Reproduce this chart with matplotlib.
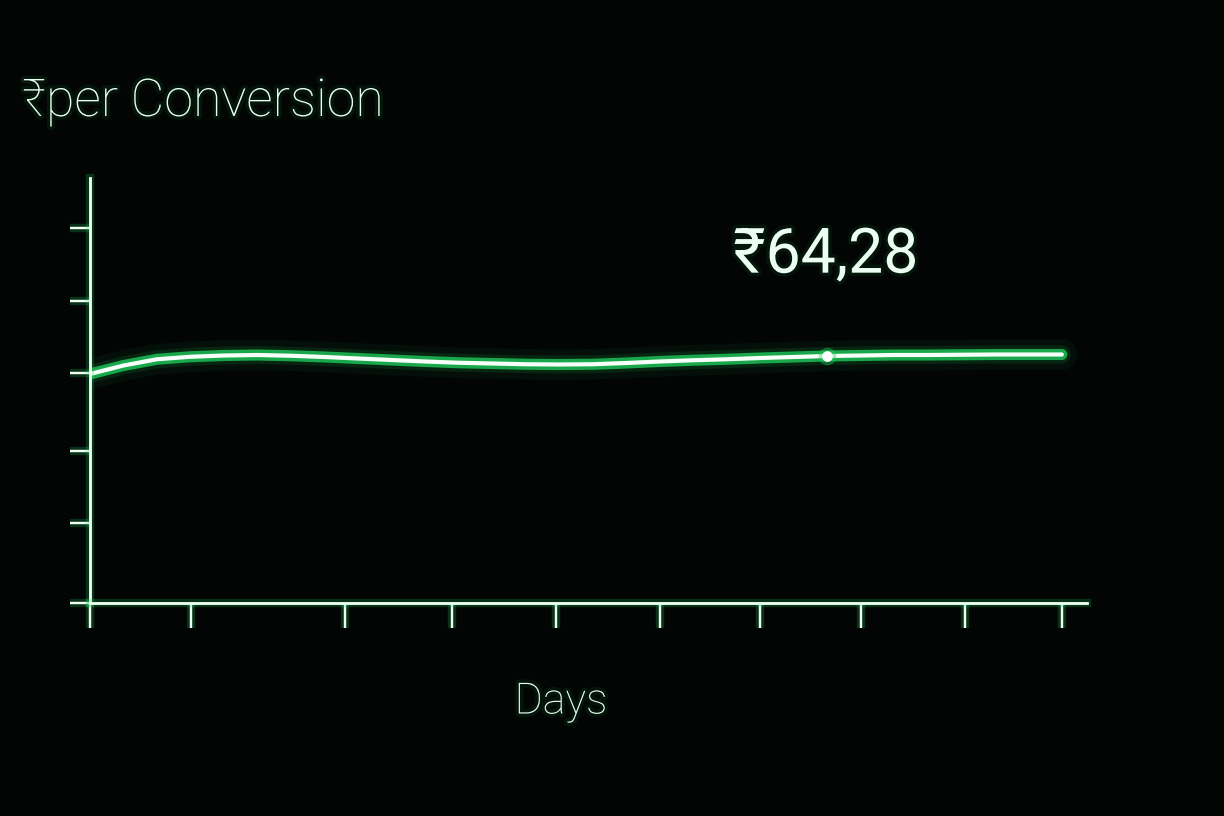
import matplotlib
matplotlib.use("Agg")
import matplotlib.pyplot as plt
import matplotlib.patheffects as pe

# cost per conversion, one value per day
days = list(range(30))
cost = [63.56, 63.90, 64.15, 64.25, 64.30, 64.32, 64.29, 64.24, 64.18, 64.12,
        64.06, 64.01, 63.98, 63.95, 63.94, 63.95, 64.00, 64.06, 64.11, 64.15,
        64.20, 64.24, 64.28, 64.30, 64.32, 64.32, 64.33, 64.34, 64.34, 64.34]
highlight_day = 22
highlight_label = "₹64,28"

x_ticks = [0, 3, 7.6, 10.8, 13.9, 17, 20, 23, 26.1, 29]
y_ticks = [54.4, 57.6, 60.5, 63.6, 66.5, 69.4]

title = "₹per Conversion"
x_label = "Days"

BG = "#020504"
PALE = "#ecfdf2"
GREEN = "#1fd35e"
FONT = ["Roboto", "Noto Sans", "DejaVu Sans"]

fig = plt.figure(figsize=(12.24, 8.16), dpi=100, facecolor=BG)
ax = fig.add_axes([90 / 1224, 1 - 603 / 816, 997 / 1224, 425 / 816])
ax.set_facecolor(BG)

glow = [pe.withStroke(linewidth=6, foreground=GREEN, alpha=0.22)]
text_glow = [pe.withStroke(linewidth=5, foreground=GREEN, alpha=0.08)]

# line with glow layers
for lw, a in [(22, 0.05), (13, 0.12), (8, 0.75)]:
    ax.plot(days, cost, color=GREEN, lw=lw, alpha=a,
            solid_capstyle="round", solid_joinstyle="round")
ax.plot(days, cost, color="#f6fff8", lw=3.0,
        solid_capstyle="round", solid_joinstyle="round")

hv = cost[days.index(highlight_day)]
ax.scatter([highlight_day], [hv], s=160, color=GREEN, alpha=0.4, zorder=4, lw=0)
ax.scatter([highlight_day], [hv], s=60, color="#ffffff", zorder=5, lw=0)
ax.annotate(highlight_label, (highlight_day, hv), xytext=(-1, 60),
            textcoords="offset points", ha="center", va="baseline",
            fontsize=45, color=PALE, family=FONT, path_effects=text_glow)

ax.set_xlim(0, 29.75)
ax.set_ylim(54.4, 71.4)
ax.set_xticks(x_ticks)
ax.set_yticks(y_ticks)
ax.set_xticklabels([])
ax.set_yticklabels([])
ax.tick_params(axis="x", length=18, width=1.6, color=PALE, direction="out")
ax.tick_params(axis="y", length=14.5, width=1.6, color=PALE, direction="out")
for t in ax.xaxis.get_major_ticks() + ax.yaxis.get_major_ticks():
    t.tick1line.set_path_effects(glow + [pe.Normal()])

for s in ["top", "right"]:
    ax.spines[s].set_visible(False)
for s in ["left", "bottom"]:
    ax.spines[s].set_color(PALE)
    ax.spines[s].set_linewidth(1.8)
    ax.spines[s].set_path_effects(glow + [pe.Normal()])

fig.text(22 / 1224, 1 - 102 / 816, title, ha="left", va="center",
         fontsize=37.5, color=PALE, family=FONT, fontweight="light",
         path_effects=text_glow)
fig.text(561 / 1224, 1 - 702 / 816, x_label, ha="center", va="center",
         fontsize=31, color=PALE, family=FONT, fontweight="light",
         path_effects=text_glow)

fig.savefig("out.png", dpi=100, facecolor=BG)
